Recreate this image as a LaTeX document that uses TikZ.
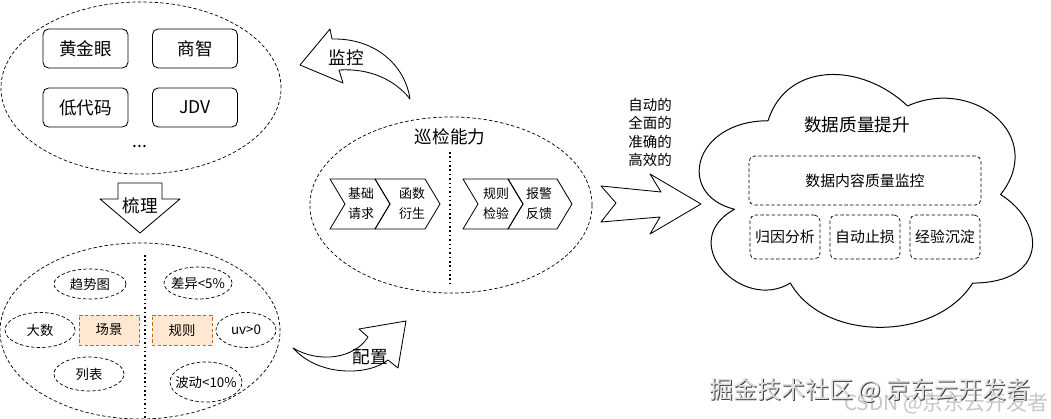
\documentclass[tikz,border=0pt]{standalone}
\usepackage{fontspec}
\setmainfont{Noto Sans CJK SC}
\usetikzlibrary{shapes.geometric}

\begin{document}
\begin{tikzpicture}[x=0.025cm, y=-0.025cm, line join=round, line width=0.6pt,
  every node/.style={inner sep=0pt},
  bigtxt/.style={font=\fontsize{12.5}{15}\selectfont},
  midtxt/.style={font=\fontsize{10.6}{13}\selectfont},
  smalltxt/.style={font=\fontsize{9.5}{12}\selectfont},
  groupell/.style={draw, ellipse, dash pattern=on 2.4pt off 1.6pt, line width=0.5pt},
  itemell/.style={draw, ellipse, dash pattern=on 2.4pt off 1.6pt, line width=0.5pt, label={[smalltxt]center:#1}},
  toolbox/.style={draw, rounded corners=4pt, minimum width=2.125cm, minimum height=0.975cm, bigtxt},
  hotbox/.style={draw=orange!80!black, fill=orange!18, dash pattern=on 2.4pt off 1.6pt, line width=0.5pt,
    minimum width=1.5cm, minimum height=0.75cm, smalltxt},
  goalbox/.style={draw, rounded corners=4pt, dash pattern=on 2.4pt off 1.6pt, line width=0.5pt, midtxt},
  sepline/.style={dotted, line width=1.1pt}
]
\useasboundingbox (0,0) rectangle (1051,419);

% sources
\node[groupell, minimum width=7cm, minimum height=4.3cm] (src) at (141,88) {};
\node[toolbox] (hjy) at (85.5,48.5) {黄金眼};
\node[toolbox] (sz) at (195,48.5) {商智};
\node[toolbox] (ddm) at (85.5,107.5) {低代码};
\node[toolbox] (jdv) at (195,107.5) {JDV};
\node[bigtxt] (more) at (140,147) {...};

\draw (118,183) -- (162,183) -- (162,199) -- (180,199) -- (140,233) -- (100,199) -- (118,199) -- cycle;
\node[bigtxt] (sort) at (140,206) {梳理};

% scenes and rules
\node[groupell, minimum width=7cm, minimum height=4.4cm] (cases) at (140,331) {};
\coordinate (sepA) at (145,255);
\coordinate (sepB) at (145,419);
\draw[sepline] (sepA) -- (sepB);
\node[itemell=趋势图, minimum width=1.8cm, minimum height=0.75cm] (trend) at (90,284) {};
\node[itemell=大数, minimum width=1.75cm, minimum height=0.875cm] (bignum) at (40,330) {};
\node[itemell=列表, minimum width=1.75cm, minimum height=0.85cm] (list) at (89,374) {};
\node[itemell={差异<5\%}, minimum width=1.7cm, minimum height=0.8cm] (diff) at (198,283) {};
\node[itemell={uv>0}, minimum width=1.5cm, minimum height=0.875cm] (uv) at (246,330) {};
\node[itemell={波动<10\%}, minimum width=1.8cm, minimum height=1.0cm] (wave) at (206,382) {};
\node[hotbox] (scene) at (109,330) {场景};
\node[hotbox] (rule) at (182,330) {规则};

% inspection
\draw (300,65) -- (330,29) -- (332,39) .. controls (375,38) and (405,65) .. (410,99)
  .. controls (395,80) and (370,68) .. (339,70) -- (343,83) -- cycle;
\node[bigtxt] (watch) at (346,58) {监控};
\draw (293,348) .. controls (320,364) and (355,358) .. (368,337) -- (359,329) -- (406,321)
  -- (398,368) -- (388,360) .. controls (370,375) and (320,378) .. (293,348) -- cycle;
\node[bigtxt] (conf) at (370,357) {配置};

\node[groupell, minimum width=7.05cm, minimum height=4.4cm] (insp) at (451,205) {};
\node[bigtxt] (insptitle) at (450,137) {巡检能力};
\coordinate (sepC) at (450,152);
\coordinate (sepD) at (450,283);
\draw[sepline] (sepC) -- (sepD);
\foreach \x/\w/\tc/\tx/\nm in {330/45/361/{基础\\请求}/c1, 375/50/412/{函数\\衍生}/c2,
    463/45/496/{规则\\检验}/c3, 508/49/539/{报警\\反馈}/c4} {
  \draw (\x,179) -- ++(\w,0) -- ++(15,25) -- ++(-15,25) -- ++(-\w,0) -- ++(15,-25) -- cycle;
  \node[font=\fontsize{9.2}{14.2}\selectfont, align=center] (\nm) at (\tc,204) {\tx};
}

% result
\draw[fill=white] (601,186) -- (661,192) -- (650,174) -- (701,204) -- (650,234) -- (660,217)
  -- (601,222) -- (616,203) -- cycle;
\node[font=\fontsize{10.3}{13.2}\selectfont, align=center] (adj) at (650,132.5) {自动的\\全面的\\准确的\\高效的};

\begin{scope}[shift={(675,47)}, x=9.3cm, y=-7.375cm]
\draw[line width=0.7pt] (0.25,0.25) .. controls (0.05,0.25) and (0,0.5) .. (0.16,0.55)
  .. controls (0,0.66) and (0.18,0.9) .. (0.31,0.8)
  .. controls (0.4,1) and (0.7,1) .. (0.8,0.8)
  .. controls (1,0.8) and (1,0.6) .. (0.875,0.5)
  .. controls (1,0.3) and (0.8,0.1) .. (0.625,0.2)
  .. controls (0.5,0.05) and (0.3,0.05) .. (0.25,0.25) -- cycle;
\end{scope}
\node[bigtxt] (goal) at (857,125) {数据质量提升};
\node[goalbox, minimum width=5.8cm, minimum height=1.225cm] (dqm) at (865,180.5) {数据内容质量监控};
\node[goalbox, minimum width=1.75cm, minimum height=1.1cm] (cause) at (785,237) {归因分析};
\node[goalbox, minimum width=1.75cm, minimum height=1.1cm] (stop) at (865,237) {自动止损};
\node[goalbox, minimum width=1.75cm, minimum height=1.1cm] (exp) at (945,237) {经验沉淀};

% watermarks
\node[font=\fontsize{14.8}{17}\selectfont, text=gray!45] (wmB) at (946,403) {CSDN @京东云开发者};
\node[font=\fontsize{17}{20}\selectfont, text=black!75] (wmS) at (871,391) {掘金技术社区 @ 京东云开发者};
\node[font=\fontsize{17}{20}\selectfont, text=white!88!black] (wmA) at (870,390) {掘金技术社区 @ 京东云开发者};
\end{tikzpicture}
\end{document}
